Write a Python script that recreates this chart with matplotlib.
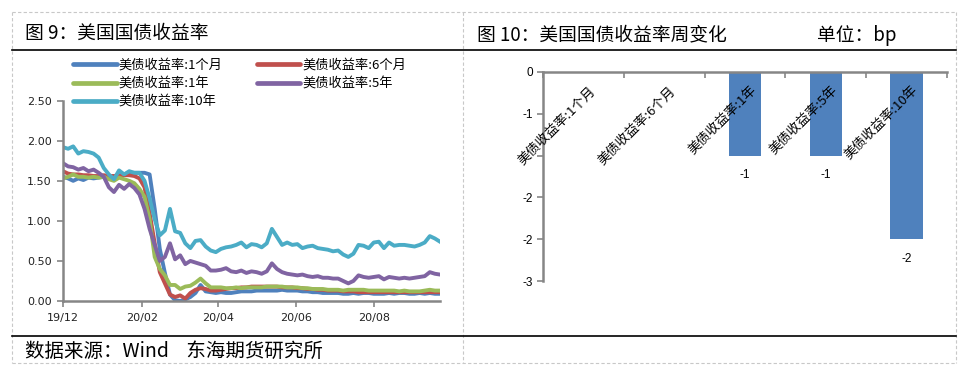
import matplotlib
matplotlib.use("Agg")
import matplotlib.pyplot as plt
from matplotlib.lines import Line2D
import pandas as pd

plt.rcParams['font.family'] = ['Noto Sans CJK SC', 'DejaVu Sans']

# ---------------- data ----------------
dates = pd.date_range('2019-12-01', periods=75, freq='4D')

y_1m = [1.55, 1.53, 1.50, 1.53, 1.51, 1.54, 1.53, 1.54, 1.55, 1.56,
        1.56, 1.57, 1.58, 1.60, 1.60, 1.60, 1.60, 1.58, 1.15, 0.65,
        0.35, 0.08, 0.01, 0.00, 0.02, 0.05, 0.10, 0.20, 0.12, 0.11,
        0.10, 0.11, 0.10, 0.10, 0.11, 0.12, 0.12, 0.12, 0.13, 0.13,
        0.13, 0.13, 0.13, 0.14, 0.13, 0.13, 0.13, 0.12, 0.12, 0.11,
        0.11, 0.10, 0.10, 0.10, 0.10, 0.09, 0.09, 0.10, 0.09, 0.10,
        0.10, 0.09, 0.09, 0.09, 0.10, 0.09, 0.10, 0.10, 0.09, 0.09,
        0.10, 0.09, 0.10, 0.09, 0.09]
y_6m = [1.62, 1.59, 1.58, 1.58, 1.57, 1.57, 1.56, 1.56, 1.57, 1.56,
        1.56, 1.56, 1.57, 1.57, 1.56, 1.53, 1.42, 1.10, 0.72, 0.36,
        0.22, 0.08, 0.05, 0.07, 0.03, 0.10, 0.14, 0.16, 0.15, 0.13,
        0.13, 0.14, 0.15, 0.16, 0.16, 0.17, 0.17, 0.18, 0.18, 0.18,
        0.18, 0.18, 0.18, 0.17, 0.17, 0.17, 0.16, 0.16, 0.15, 0.15,
        0.14, 0.14, 0.13, 0.13, 0.13, 0.12, 0.12, 0.12, 0.11, 0.11,
        0.11, 0.11, 0.11, 0.11, 0.11, 0.11, 0.11, 0.11, 0.11, 0.11,
        0.11, 0.11, 0.11, 0.11, 0.11]
y_1y = [1.53, 1.55, 1.58, 1.55, 1.55, 1.54, 1.55, 1.54, 1.55, 1.52,
        1.50, 1.54, 1.52, 1.50, 1.47, 1.40, 1.30, 1.02, 0.55, 0.40,
        0.32, 0.20, 0.20, 0.15, 0.18, 0.19, 0.23, 0.28, 0.22, 0.17,
        0.17, 0.17, 0.16, 0.16, 0.17, 0.16, 0.17, 0.17, 0.17, 0.17,
        0.18, 0.18, 0.18, 0.18, 0.17, 0.17, 0.17, 0.16, 0.16, 0.15,
        0.15, 0.15, 0.14, 0.14, 0.14, 0.13, 0.14, 0.14, 0.14, 0.14,
        0.13, 0.13, 0.13, 0.13, 0.13, 0.13, 0.12, 0.13, 0.12, 0.12,
        0.12, 0.13, 0.14, 0.13, 0.13]
y_5y = [1.72, 1.68, 1.67, 1.64, 1.66, 1.62, 1.64, 1.60, 1.55, 1.42,
        1.36, 1.45, 1.40, 1.46, 1.41, 1.33, 1.15, 0.90, 0.70, 0.50,
        0.55, 0.72, 0.52, 0.57, 0.46, 0.50, 0.48, 0.46, 0.44, 0.38,
        0.38, 0.39, 0.41, 0.37, 0.36, 0.38, 0.35, 0.37, 0.36, 0.34,
        0.37, 0.47, 0.40, 0.36, 0.34, 0.33, 0.32, 0.33, 0.31, 0.30,
        0.31, 0.29, 0.29, 0.28, 0.28, 0.25, 0.22, 0.25, 0.32, 0.30,
        0.29, 0.30, 0.31, 0.27, 0.30, 0.29, 0.28, 0.29, 0.28, 0.29,
        0.30, 0.31, 0.36, 0.34, 0.33]
y_10y = [1.92, 1.90, 1.93, 1.84, 1.87, 1.86, 1.84, 1.79, 1.66, 1.58,
         1.52, 1.63, 1.58, 1.62, 1.60, 1.60, 1.50, 1.28, 1.02, 0.82,
         0.88, 1.15, 0.87, 0.85, 0.72, 0.66, 0.75, 0.76, 0.68, 0.63,
         0.61, 0.65, 0.67, 0.68, 0.70, 0.73, 0.67, 0.71, 0.70, 0.67,
         0.72, 0.90, 0.80, 0.70, 0.73, 0.70, 0.71, 0.66, 0.68, 0.69,
         0.66, 0.65, 0.64, 0.62, 0.63, 0.58, 0.55, 0.59, 0.70, 0.69,
         0.66, 0.73, 0.74, 0.66, 0.73, 0.69, 0.70, 0.70, 0.69, 0.68,
         0.70, 0.73, 0.81, 0.78, 0.74]

series_labels = ['美债收益率:1个月', '美债收益率:6个月', '美债收益率:1年',
                 '美债收益率:5年', '美债收益率:10年']
series_colors = ['#4F81BD', '#C0504D', '#9BBB59', '#8064A2', '#4BACC6']

xtick_dates = ['2019-12-01', '2020-02-01', '2020-04-01', '2020-06-01', '2020-08-01']
xtick_labels = ['19/12', '20/02', '20/04', '20/06', '20/08']
ytick_vals = [0.0, 0.5, 1.0, 1.5, 2.0, 2.5]

bar_cats = ['美债收益率:1个月', '美债收益率:6个月', '美债收益率:1年',
            '美债收益率:5年', '美债收益率:10年']
bar_vals = [0, 0, -1, -1, -2]
bar_yticks = [0, -0.5, -1.0, -1.5, -2.0, -2.5]
bar_yticklabels = ['0', '-1', '', '-2', '-2', '-3']

# ---------------- figure ----------------
W, H = 979, 378
fig = plt.figure(figsize=(W / 100, H / 100), dpi=100)

def fx(x):
    return x / W

def fy(y):
    return 1 - y / H

GRAY = '#868686'

# frame lines (table-like layout)
dash_kw = dict(color='#C8C8C8', lw=0.8, ls=(0, (3, 2)), transform=fig.transFigure)
for x in (12, 463, 956):
    fig.add_artist(Line2D([fx(x), fx(x)], [fy(12), fy(363)], **dash_kw))
for y in (12, 363):
    fig.add_artist(Line2D([fx(12), fx(956)], [fy(y), fy(y)], **dash_kw))
for y in (50, 336):
    fig.add_artist(Line2D([fx(12), fx(956)], [fy(y), fy(y)], color='black', lw=1.2,
                          transform=fig.transFigure))

# titles
fig.text(fx(25), fy(33), '图 9：美国国债收益率', fontsize=13.5, va='center', ha='left')
fig.text(fx(477), fy(35), '图 10：美国国债收益率周变化', fontsize=13.5, va='center', ha='left')
fig.text(fx(817), fy(35), '单位：bp', fontsize=13.5, va='center', ha='left')
fig.text(fx(25), fy(351), '数据来源：Wind    东海期货研究所', fontsize=14, va='center', ha='left')

# ---------------- left chart ----------------
ax1 = fig.add_axes([fx(63), fy(301), fx(440) - fx(63), fy(100.7) - fy(301)])
series = [y_1m, y_6m, y_1y, y_5y, y_10y]
handles = []
for vals, lab, col in zip(series, series_labels, series_colors):
    ax1.plot(dates, vals, color=col, lw=2.8, solid_joinstyle='round')
    handles.append(Line2D([], [], color=col, lw=3.4, solid_capstyle='round'))

ax1.set_xlim(dates[0], dates[-1])
ax1.set_ylim(0, 2.5)
ax1.set_xticks(pd.to_datetime(xtick_dates))
ax1.set_xticklabels(xtick_labels)
ax1.set_yticks(ytick_vals)
ax1.set_yticklabels([f'{v:.2f}' for v in ytick_vals])
for s in ('top', 'right'):
    ax1.spines[s].set_visible(False)
for s in ('left', 'bottom'):
    ax1.spines[s].set_color(GRAY)
    ax1.spines[s].set_linewidth(1.8)
ax1.tick_params(axis='both', direction='out', length=4, width=1.2, color=GRAY,
                labelsize=8, labelcolor='#222222')
ax1.tick_params(axis='x', pad=5)
ax1.tick_params(axis='y', pad=4)
for t in ax1.get_xticklabels() + ax1.get_yticklabels():
    t.set_fontfamily('DejaVu Sans')

# legend filled row by row (2 columns): reorder for matplotlib's column-major fill
order = [0, 2, 4, 1, 3]
fig.legend([handles[i] for i in order], [series_labels[i] for i in order],
           loc='upper left', ncol=2, frameon=False,
           bbox_to_anchor=(fx(73), fy(59)), bbox_transform=fig.transFigure,
           fontsize=9.5, handlelength=3.3, handletextpad=0.15, columnspacing=2.6,
           labelspacing=0.42, borderpad=0, borderaxespad=0)

# ---------------- right chart ----------------
ax2 = fig.add_axes([fx(543), fy(281), fx(947) - fx(543), fy(72) - fy(281)])
xpos = list(range(len(bar_cats)))
ax2.bar(xpos, bar_vals, width=0.4, color='#4F81BD')
ax2.set_xlim(-0.5, len(bar_cats) - 0.5)
ax2.set_ylim(-2.5, 0)
ax2.set_yticks(bar_yticks)
ax2.set_yticklabels(bar_yticklabels)
for s in ('bottom', 'right'):
    ax2.spines[s].set_visible(False)
for s in ('left', 'top'):
    ax2.spines[s].set_color(GRAY)
    ax2.spines[s].set_linewidth(1.8)
ax2.xaxis.tick_top()
ax2.set_xticks([p - 0.5 for p in xpos] + [xpos[-1] + 0.5])
ax2.tick_params(axis='x', direction='in', length=4, width=1.2, color=GRAY, labeltop=False)
ax2.tick_params(axis='y', direction='out', length=4, width=1.2, color=GRAY,
                labelsize=8.5, labelcolor='black', pad=3)
for t in ax2.get_yticklabels():
    t.set_fontfamily('Liberation Sans')

for i, cat in zip(xpos, bar_cats):
    ax2.annotate(cat, xy=(i, 0), xytext=(7, -12), textcoords='offset points',
                 rotation=45, rotation_mode='anchor', ha='right', va='center',
                 fontsize=9.5, color='black')

for i, v in zip(xpos, bar_vals):
    if v != 0:
        ax2.annotate(f'{v:.0f}', xy=(i, v), xytext=(0, -14), textcoords='offset points',
                     ha='center', va='center', fontsize=8.5, family='Liberation Sans')

fig.savefig('out.png', dpi=100)
